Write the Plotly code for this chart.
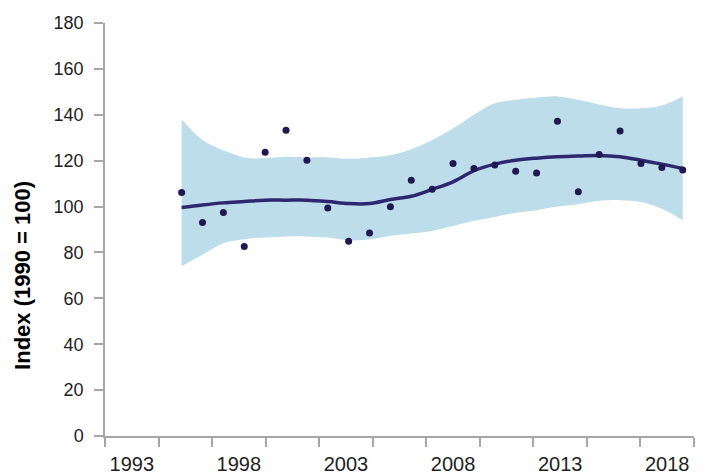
import plotly.graph_objects as go

# ---- data ----
years = list(range(1994, 2019))
observed = [106.1, 93.1, 97.4, 82.6, 123.7, 133.3, 120.2, 99.4, 84.9, 88.5,
            99.9, 111.5, 107.5, 118.8, 116.6, 118.1, 115.4, 114.6, 137.2, 106.4,
            122.7, 132.9, 118.8, 117.0, 115.9]
trend = [99.6, 100.7, 101.6, 102.2, 102.8, 102.8, 102.8, 102.2, 101.3, 101.3,
         103.1, 104.5, 107.5, 110.8, 115.6, 118.5, 120.2, 121.1, 121.7, 122.0,
         122.3, 121.7, 120.2, 118.5, 116.6]
upper = [138.0, 129.0, 124.5, 121.4, 121.0, 121.7, 121.4, 121.4, 120.8, 121.4,
         122.4, 125.0, 129.0, 134.0, 140.0, 145.0, 146.5, 147.5, 148.0, 146.5,
         144.5, 142.8, 142.8, 144.0, 148.0]
lower = [74.0, 79.0, 84.0, 85.8, 86.5, 87.0, 87.0, 86.5, 85.3, 85.6,
         87.3, 88.3, 89.4, 91.5, 93.8, 95.5, 97.3, 98.4, 100.0, 101.0,
         102.5, 102.8, 102.0, 99.0, 94.0]
tick_labels = ["1993", "1998", "2003", "2008", "2013", "2018"]
y_title = "Index (1990 = 100)"

BAND = "rgb(190,221,234)"
LINE = "rgb(45,40,110)"
DOT = "rgb(32,24,80)"
AXIS = "rgb(166,166,166)"
TXT = "rgb(30,30,30)"
FONT = "Liberation Sans, Arial, sans-serif"

label_years = [int(t) for t in tick_labels]

fig = go.Figure()
fig.add_trace(go.Scatter(x=years, y=upper, mode="lines", line=dict(width=0, shape="spline"),
                         hoverinfo="skip", showlegend=False))
fig.add_trace(go.Scatter(x=years, y=lower, mode="lines", line=dict(width=0, shape="spline"),
                         fill="tonexty", fillcolor=BAND, hoverinfo="skip", showlegend=False))
fig.add_trace(go.Scatter(x=years, y=trend, mode="lines",
                         line=dict(color=LINE, width=3.5, shape="spline"), showlegend=False))
fig.add_trace(go.Scatter(x=years, y=observed, mode="markers",
                         marker=dict(color=DOT, size=7), showlegend=False))
# carrier for the labelled year axis (draws nothing)
fig.add_trace(go.Scatter(x=label_years, y=[None] * len(label_years), xaxis="x2",
                         mode="markers", hoverinfo="skip", showlegend=False))

fig.update_layout(
    width=702, height=467,
    margin=dict(l=97, r=16, t=15, b=39, autoexpand=False),
    paper_bgcolor="white", plot_bgcolor="white",
    font=dict(family=FONT, size=18, color=TXT),
    xaxis=dict(range=[1990.33, 2018.54], visible=False, fixedrange=True, automargin=False),
    xaxis2=dict(
        overlaying="x", side="bottom", anchor="y",
        range=[1991.75, 2019.25], automargin=False,
        tickmode="array", tickvals=label_years, ticktext=tick_labels,
        ticks="", showgrid=False, zeroline=False,
        showline=True, linecolor=AXIS, linewidth=1.5,
        ticklabelstandoff=9,
        tickfont=dict(family=FONT, size=20, color=TXT),
        minor=dict(tick0=1991.75, dtick=2.5, ticks="outside", ticklen=9,
                   tickcolor=AXIS, tickwidth=1.5, showgrid=False),
    ),
    yaxis=dict(
        range=[0, 180], dtick=20, tick0=0, automargin=False,
        ticks="outside", ticklen=9, tickcolor=AXIS, tickwidth=1.5,
        showline=True, linecolor=AXIS, linewidth=1.5,
        showgrid=False, zeroline=False,
        ticklabelstandoff=7,
        tickfont=dict(family=FONT, size=18, color=TXT),
    ),
    annotations=[dict(
        text="<b>" + y_title + "</b>", textangle=-90,
        xref="paper", yref="paper", x=-0.139, y=0.388,
        xanchor="center", yanchor="middle", showarrow=False,
        font=dict(family=FONT, size=22, color="black"),
    )],
)

fig.write_html("out.html")
